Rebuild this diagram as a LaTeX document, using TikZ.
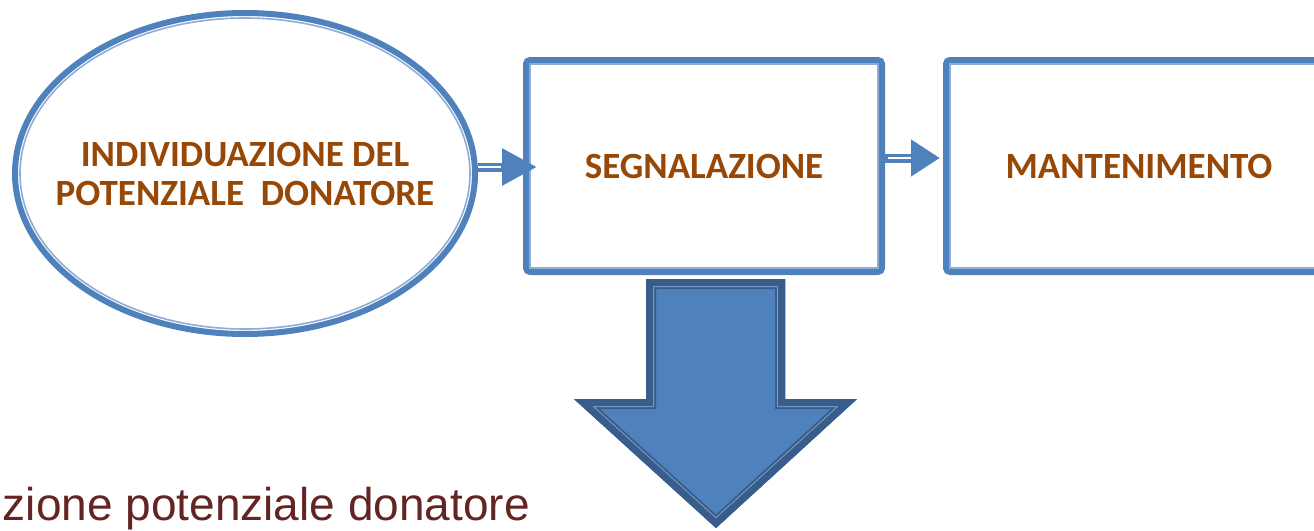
\documentclass[tikz,border=0pt]{standalone}
\usepackage{fontspec}
\setmainfont{Carlito}
\newfontfamily\arialf{Liberation Sans}
\usetikzlibrary{shapes.geometric,arrows.meta}
\definecolor{boxblue}{HTML}{4F81BD}
\definecolor{thinblue}{HTML}{8DACD6}
\definecolor{darkblue}{HTML}{385D8A}
\definecolor{txtbrown}{HTML}{984806}
\definecolor{txtred}{HTML}{632523}
\begin{document}
\begin{tikzpicture}[x=1pt,y=-1pt,
  lbl/.style={font=\bfseries\fontsize{37}{39}\selectfont, text=txtbrown, align=center},
  stepbox/.style={draw=boxblue, line width=6pt, rounded corners=4pt, fill=white, inner sep=0pt, lbl},
  thinline/.style={draw=thinblue, line width=1.6pt},
  shaft/.style={draw=boxblue, line width=9pt},
  shaftgap/.style={draw=white, line width=2pt},
  darrow/.style={line join=miter, miter limit=30}]
\useasboundingbox (0,0) rectangle (1314,530);

% ellipse
\node[ellipse, draw=boxblue, line width=6pt, fill=white, minimum width=460pt, minimum height=321pt, inner xsep=-60pt, inner ysep=0pt, lbl] (ind) at (245,173.5) {INDIVIDUAZIONE DEL\\POTENZIALE\ \ DONATORE};
\draw[thinline] (ind.center) ellipse [x radius=225pt, y radius=155.5pt];

% boxes
\node[stepbox, minimum width=356pt, minimum height=212pt] (seg) at (704,166) {SEGNALAZIONE};
\draw[thinline] ([shift={(7pt,7pt)}]seg.south west) rectangle ([shift={(-7pt,-7pt)}]seg.north east);
\node[stepbox, minimum width=386pt, minimum height=212pt] (man) at (1139,166) {MANTENIMENTO};
\draw[thinline] ([shift={(7pt,7pt)}]man.south west) rectangle ([shift={(-7pt,-7pt)}]man.north east);

% connector 1
\coordinate (a1) at ([yshift=-1pt]ind.east |- seg.west);
\coordinate (b1) at ([yshift=-1pt]seg.west);
\draw[shaft, -{Triangle[length=35pt,width=35pt]}, shorten >=-14pt] (a1) -- (b1);
\draw[shaftgap, shorten >=22pt] (a1) -- (b1);

% connector 2
\coordinate (a2) at ([yshift=8pt]seg.east);
\coordinate (b2) at ([yshift=8pt]man.west);
\draw[shaft, -{Triangle[length=29pt,width=35pt]}, shorten >=3pt] (a2) -- (b2);
\draw[shaftgap, shorten <=3pt, shorten >=32pt] (a2) -- (b2);

% down block arrow
\def\downarrowpath{(646,279) -- (785,279) -- (785,399) -- (857,399) -- (716,528) -- (574,399) -- (646,399) -- cycle}
\begin{scope}
\clip \downarrowpath;
\fill[boxblue] (560,270) rectangle (870,530);
\draw[darrow, darkblue, line width=20pt] \downarrowpath;
\draw[darrow, thinblue!70!boxblue, line width=16pt] \downarrowpath;
\draw[darrow, darkblue, line width=14pt] \downarrowpath;
\end{scope}

% caption
\node[font=\arialf\fontsize{46}{50}\selectfont, text=txtred, anchor=base east, inner sep=0pt] (cap) at (530,520) {zione potenziale donatore};
\end{tikzpicture}
\end{document}
